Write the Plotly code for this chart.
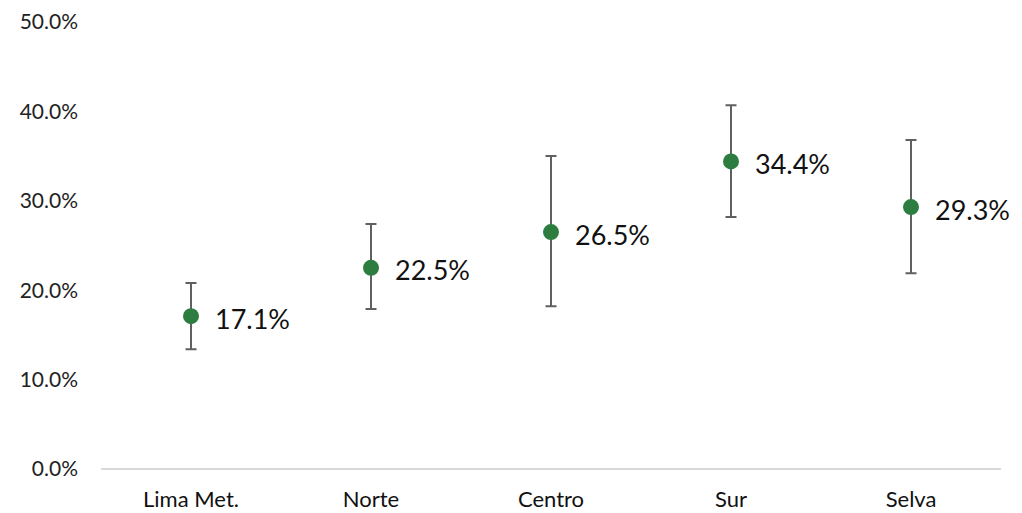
import plotly.graph_objects as go

regions = ["Lima Met.", "Norte", "Centro", "Sur", "Selva"]
values = [17.1, 22.5, 26.5, 34.4, 29.3]
upper = [20.8, 27.4, 35.0, 40.7, 36.8]
lower = [13.4, 17.9, 18.2, 28.2, 21.9]
value_labels = ["17.1%", "22.5%", "26.5%", "34.4%", "29.3%"]

err_plus = [u - v for u, v in zip(upper, values)]
err_minus = [v - l for v, l in zip(values, lower)]

FONT = "Lato, Noto Sans, sans-serif"

fig = go.Figure()
fig.add_trace(go.Scatter(
    x=regions, y=values, mode="markers",
    marker=dict(color="#2e7d40", size=16),
    error_y=dict(type="data", symmetric=False, array=err_plus, arrayminus=err_minus,
                 color="#606060", thickness=2, width=5.5),
    cliponaxis=False, showlegend=False, hoverinfo="x+y",
))

for r, v, t in zip(regions, values, value_labels):
    fig.add_annotation(x=r, y=v, text=t, showarrow=False, xanchor="left", yanchor="middle",
                       xshift=22, yshift=-2, font=dict(family=FONT, size=27, color="#111111"))

fig.update_layout(
    width=1022, height=513,
    margin=dict(l=93, r=29, t=14, b=52, autoexpand=False),
    paper_bgcolor="white", plot_bgcolor="white",
    font=dict(family=FONT, color="#222222"),
    xaxis=dict(range=[-0.5, 4.5], showgrid=False, showline=False, zeroline=False,
               tickfont=dict(size=22, color="#111111"), ticks="",
               ticklabelstandoff=15, automargin=False),
    yaxis=dict(range=[0, 50], dtick=10, tickformat=".1f", ticksuffix="%",
               showgrid=False, zeroline=True, zerolinecolor="#d9d9d9", zerolinewidth=2,
               showline=False, ticks="", tickfont=dict(size=21, color="#222222"),
               ticklabelstandoff=22, automargin=False),
)

fig.write_html("out.html")
